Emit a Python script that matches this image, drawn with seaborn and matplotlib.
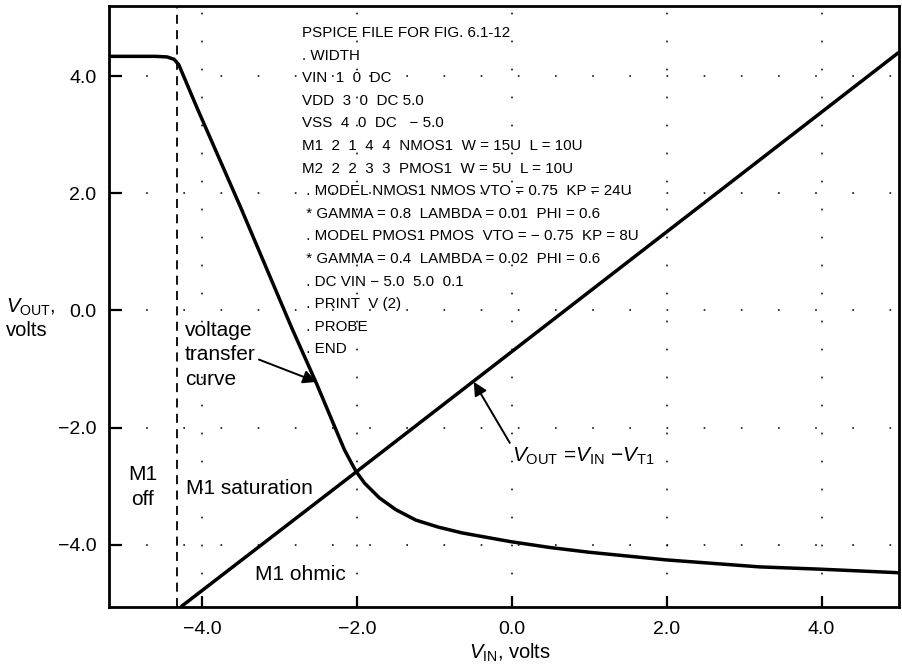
import numpy as np
import pandas as pd
import seaborn as sns
import matplotlib
matplotlib.use('Agg')
import matplotlib.pyplot as plt

# voltage transfer curve (volts)
vin_vtc = [-5.2, -4.6, -4.45, -4.36, -4.30, -4.06, -3.5, -2.84, -2.52, -2.25,
           -2.16, -2.08, -2.01, -1.90, -1.71, -1.50, -1.24, -0.95, -0.64, -0.01,
           0.5, 1.0, 1.99, 3.2, 4.0, 5.0]
vout_vtc = [4.34, 4.34, 4.33, 4.29, 4.20, 3.45, 1.76, -0.30, -1.25, -2.10,
            -2.38, -2.58, -2.75, -2.95, -3.20, -3.40, -3.58, -3.70, -3.80, -3.95,
            -4.05, -4.13, -4.26, -4.38, -4.42, -4.48]

# VOUT = VIN - VT1 straight line
vin_line = [-4.26, -2.01, 4.99]
vout_line = [-5.05, -2.76, 4.40]

# boundary between M1 off and M1 saturation
vin_off = -4.32

ticks = [-4.0, -2.0, 0.0, 2.0, 4.0]

spice_lines = [
    "PSPICE FILE FOR FIG. 6.1-12",
    ". WIDTH",
    "VIN  1  0  DC",
    "VDD  3  0  DC 5.0",
    "VSS  4  0  DC   \u2212 5.0",
    "M1  2  1  4  4  NMOS1  W = 15U  L = 10U",
    "M2  2  2  3  3  PMOS1  W = 5U  L = 10U",
    " . MODEL NMOS1 NMOS VTO = 0.75  KP = 24U",
    " * GAMMA = 0.8  LAMBDA = 0.01  PHI = 0.6",
    " . MODEL PMOS1 PMOS  VTO = \u2212 0.75  KP = 8U",
    " * GAMMA = 0.4  LAMBDA = 0.02  PHI = 0.6",
    " . DC VIN \u2212 5.0  5.0  0.1",
    " . PRINT  V (2)",
    " . PROBE",
    " . END",
]

sns.set_theme(style="white")
plt.rcParams['font.family'] = ['Liberation Sans', 'DejaVu Sans']
plt.rcParams['text.color'] = 'black'
plt.rcParams['axes.labelcolor'] = 'black'
plt.rcParams['mathtext.fontset'] = 'custom'
plt.rcParams['mathtext.rm'] = 'Liberation Sans'
plt.rcParams['mathtext.it'] = 'Liberation Sans:italic'

fig = plt.figure(figsize=(9.02, 6.69), dpi=100)
ax = fig.add_axes([109 / 902, 1 - 606.7 / 669, 790 / 902, 600.7 / 669])

df_vtc = pd.DataFrame({"vin": vin_vtc, "vout": vout_vtc})
df_line = pd.DataFrame({"vin": vin_line, "vout": vout_line})

# dotted grid, dots every 0.4 V like the old plotter
for t in ticks:
    ax.axhline(t, color='#111111', lw=1.2, linestyle=(0, (1, 21.3)), zorder=1)
    ax.axvline(t, color='#111111', lw=1.2, linestyle=(14, (1, 15.8)), zorder=1)

sns.lineplot(data=df_vtc, x="vin", y="vout", ax=ax, color='black', lw=2.5,
             sort=False, estimator=None, zorder=3)
sns.lineplot(data=df_line, x="vin", y="vout", ax=ax, color='black', lw=2.5,
             sort=False, estimator=None, zorder=3)
ax.axvline(vin_off, color='black', lw=1.3, linestyle=(0, (5, 3.5)), zorder=2)

ax.set_xlim(-5.2, 5.0)
ax.set_ylim(-5.06, 5.2)
ax.set_xticks(ticks)
ax.set_yticks(ticks)
ax.set_xticklabels([f"{t:.1f}".replace('-', '\u2212') for t in ticks])
ax.set_yticklabels([f"{t:.1f}".replace('-', '\u2212') for t in ticks])
ax.tick_params(axis='x', direction='in', length=8, width=1.6, pad=10,
               labelsize=14, colors='black', bottom=True, top=False)
ax.tick_params(axis='y', direction='in', length=9, width=1.6, pad=9,
               labelsize=14, colors='black', left=True, right=False)
for s in ax.spines.values():
    s.set_color('black')
    s.set_linewidth(2.0)

ax.set_xlabel(r"$V_{\mathrm{IN}}$, volts", fontsize=14.5, va='center')
ax.xaxis.set_label_coords(0.508, -0.077)
ax.set_ylabel("$V_{\\mathrm{OUT}}$,\nvolts", fontsize=14.5, rotation=0,
              ha='left', va='center', multialignment='left')
ax.yaxis.set_label_coords(-0.130, 0.48)

# SPICE listing
for i, line in enumerate(spice_lines):
    ax.text(302 / 902, 1 - (33 + i * 22.6) / 669, line, transform=fig.transFigure,
            fontsize=10.9, va='center', ha='left', color='black')

# region labels
ax.text(143 / 902, 1 - 487 / 669, "M1\noff", transform=fig.transFigure,
        fontsize=15, ha='center', va='center', linespacing=1.45)
ax.text(186 / 902, 1 - 488 / 669, "M1 saturation", transform=fig.transFigure,
        fontsize=15, ha='left', va='center')
ax.text(255 / 902, 1 - 575 / 669, "M1 ohmic", transform=fig.transFigure,
        fontsize=15, ha='left', va='center')

ax.annotate("voltage\ntransfer\ncurve", xy=(-2.52, -1.22), xytext=(-4.22, -0.76),
            fontsize=15, ha='left', va='center', linespacing=1.35,
            arrowprops=dict(arrowstyle='-|>', color='black', lw=1.4,
                            mutation_scale=20, shrinkA=0, shrinkB=0,
                            relpos=(1.0, 0.45)))
ax.annotate(r"$V_{\mathrm{OUT}}$ =$V_{\mathrm{IN}}$ $-V_{\mathrm{T1}}$",
            xy=(-0.49, -1.22), xytext=(0.0, -2.5),
            fontsize=15, ha='left', va='center',
            arrowprops=dict(arrowstyle='-|>', color='black', lw=1.4,
                            mutation_scale=20, shrinkA=0, shrinkB=0,
                            relpos=(0.0, 1.0)))

fig.savefig("out.png", dpi=100)
